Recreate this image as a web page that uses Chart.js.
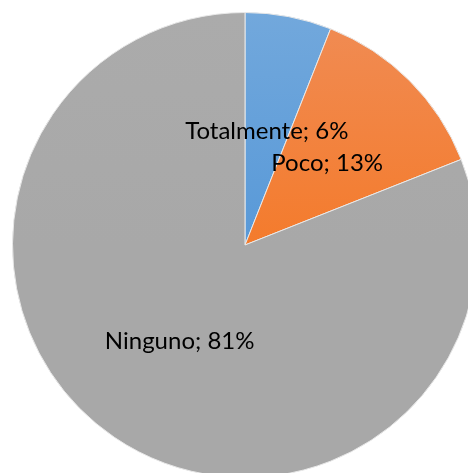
<!DOCTYPE html>
<html>
<head>
<meta charset="utf-8">
<script src="https://cdn.jsdelivr.net/npm/chart.js@4/dist/chart.umd.min.js"></script>
<style>
  html, body { margin: 0; padding: 0; background: #fff; overflow: hidden; width: 468px; height: 473px; }
  #wrap { position: absolute; left: 12px; top: 12px; width: 466px; height: 466px; }
</style>
</head>
<body>
<div id="wrap"><canvas id="pie-chart" width="466" height="466"></canvas></div>
<script>
const categories = ["Totalmente", "Poco", "Ninguno"];
const percents = [6, 13, 81];
const topColors = ["#72a8dc", "#f08c55", "#ababab"];
const bottomColors = ["#5899d8", "#f47b2c", "#a8a8a8"];

// Excel-like soft vertical gradient per slice
function sliceFill(ctx) {
  const chart = ctx.chart;
  const area = chart.chartArea;
  if (!area) return topColors[ctx.dataIndex];
  const g = chart.ctx.createLinearGradient(0, area.top, 0, area.bottom);
  g.addColorStop(0, topColors[ctx.dataIndex]);
  g.addColorStop(0.5, bottomColors[ctx.dataIndex]);
  g.addColorStop(1, bottomColors[ctx.dataIndex]);
  return g;
}

// labels "Name; N%" at the centre point of each slice
const sliceLabels = {
  id: 'sliceLabels',
  afterDatasetsDraw(chart) {
    const c = chart.ctx;
    const meta = chart.getDatasetMeta(0);
    c.save();
    c.font = '24px Lato, "DejaVu Sans", sans-serif';
    c.fillStyle = '#000';
    c.textAlign = 'center';
    c.textBaseline = 'middle';
    meta.data.forEach(function (arc, i) {
      const p = arc.getCenterPoint();
      c.fillText(categories[i] + '; ' + percents[i] + '%', p.x, p.y);
    });
    c.restore();
  }
};

new Chart(document.getElementById("pie-chart"), {
  type: 'pie',
  data: {
    labels: categories,
    datasets: [{
      data: percents,
      backgroundColor: sliceFill,
      borderColor: '#e8e8e8',
      borderWidth: 1
    }]
  },
  options: {
    responsive: false,
    animation: false,
    layout: { padding: 0 },
    plugins: {
      legend: { display: false },
      title: { display: false },
      tooltip: { enabled: false }
    }
  },
  plugins: [sliceLabels]
});
</script>
</body>
</html>
